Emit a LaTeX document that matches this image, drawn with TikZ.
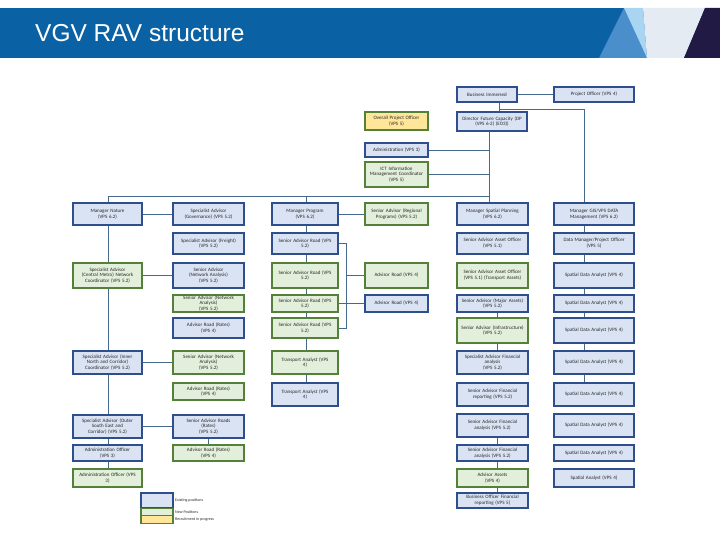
\documentclass[tikz,border=0pt]{standalone}
\usepackage{fontspec}
\setmainfont{Carlito}
\newfontfamily\arialfont{Liberation Sans}
\hyphenpenalty=10000
\exhyphenpenalty=10000
\definecolor{bfill}{HTML}{DAE3F3}
\definecolor{bbord}{HTML}{2F4F8C}
\definecolor{gfill}{HTML}{E2EFDA}
\definecolor{gbord}{HTML}{55803A}
\definecolor{yfill}{HTML}{FFE699}
\definecolor{lcol}{HTML}{46698E}
\definecolor{barblue}{HTML}{0A62A5}
\definecolor{midblue}{HTML}{4A8FCB}
\definecolor{liteblue}{HTML}{A9D4F2}
\definecolor{whitish}{HTML}{E4EBF3}
\definecolor{navy}{HTML}{211A45}
\newcommand\bx[7]{\pgfmathsetmacro\bxtw{#5-3}\node[#2,minimum width=#5pt,minimum height=#6pt,text width=\bxtw pt] (#1) at (#3,#4) {#7};}
\tikzset{
  box/.style={draw,line width=1.1pt,inner sep=0pt,align=center,font=\fontsize{5}{5.8}\selectfont,text=black!85},
  bluebox/.style={box,draw=bbord,fill=bfill},
  greenbox/.style={box,draw=gbord,fill=gfill},
  yellowbox/.style={box,draw=gbord,fill=yfill},
  conn/.style={draw=lcol,line width=0.8pt},
  legtext/.style={anchor=west,inner sep=0pt,font=\fontsize{4}{4.5}\selectfont,text=black!85}
}
\begin{document}
\hyphenpenalty=10000
\exhyphenpenalty=10000
\begin{tikzpicture}[x=1pt,y=-1pt]
\useasboundingbox (0,0) rectangle (720,540);
% header
\fill[barblue] (0,8) rectangle (720,58);
\fill[midblue] (599,58) -- (624,8) -- (647,58) -- cycle;
\fill[liteblue] (624,8) -- (643,8) -- (647,58) -- cycle;
\fill[whitish] (643,8) -- (705,8) -- (684,58) -- (647,58) -- cycle;
\fill[navy] (705,8) -- (720,8) -- (720,58) -- (684,58) -- cycle;
\node[anchor=base west,inner sep=0pt,text=white,font=\arialfont\fontsize{24.5}{26}\selectfont] (title) at (35,42) {VGV RAV structure};
% x positions of vertical connectors
\coordinate (c1x) at (108,0);
\coordinate (c2x) at (208,0);
\coordinate (c3x) at (306,0);
\coordinate (c5x) at (497,0);
\coordinate (c6x) at (584,0);
\coordinate (xa) at (499,0);
\coordinate (xd) at (489,0);
\coordinate (xb) at (346,0);
\coordinate (bus) at (489,196);
\coordinate (yb) at (0,109);
% top
\bx{biz}{bluebox}{487}{94.5}{60}{15}{Business Immersed}
\bx{proj}{bluebox}{594}{94.5}{80}{15}{Project Officer (VPS 4)}
\bx{yel}{yellowbox}{396.5}{121}{63}{18}{Overall Project Officer\\(VPS 5)}
\bx{dir}{bluebox}{492}{121.5}{70}{19}{Director Future Capacity (DP\\(VPS 6-2) (EO3))}
\bx{adm}{bluebox}{396.5}{150}{63}{14}{Administration (VPS 3)}
\bx{ict}{greenbox}{396.5}{174.5}{63}{25}{ICT Information\\Management Coordinator\\(VPS 5)}
% row 1
\bx{r1c1}{bluebox}{107.5}{214}{69}{22}{Manager Nature\\(VPS 6.2)}
\bx{r1c2}{bluebox}{208.5}{214}{71}{22}{Specialist Advisor\\(Governance) (VPS 5.2)}
\bx{r1c3}{bluebox}{305}{214}{66}{22}{Manager Program\\(VPS 6.2)}
\bx{r1c4}{greenbox}{396.5}{214}{63}{22}{Senior Advisor (Regional\\Programs) (VPS 5.2)}
\bx{r1c5}{bluebox}{492.5}{214}{71}{22}{Manager Spatial Planning\\(VPS 6.2)}
\bx{r1c6}{bluebox}{594}{214}{80}{22}{Manager GIS/VPS DATA\\Management (VPS 6.2)}
% row 2
\bx{r2c2}{bluebox}{208.5}{243.5}{71}{21}{Specialist Advisor (Freight)\\(VPS 5.2)}
\bx{r2c3}{bluebox}{305}{243.5}{66}{21}{Senior Advisor Road (VPS\\5.2)}
\bx{r2c5}{bluebox}{492.5}{243.5}{71}{21}{Senior Advisor Asset Officer\\(VPS 5.1)}
\bx{r2c6}{bluebox}{594}{243.5}{80}{21}{Data Manager/Project Officer\\(VPS 5)}
% row 3
\bx{r3c1}{greenbox}{107.5}{275.5}{69}{25}{Specialist Advisor\\(Central Metro) Network\\Coordinator (VPS 5.2)}
\bx{r3c2}{bluebox}{208.5}{275.5}{71}{25}{Senior Advisor (Network Analysis)\\(VPS 5.2)}
\bx{r3c3}{greenbox}{305}{275.5}{66}{25}{Senior Advisor Road (VPS\\5.2)}
\bx{r3c4}{greenbox}{396.5}{275.5}{63}{25}{Advisor Road (VPS 4)}
\bx{r3c5}{greenbox}{492.5}{275.5}{71}{25}{Senior Advisor Asset Officer\\(VPS 5.1) (Transport Assets)}
\bx{r3c6}{bluebox}{594}{275.5}{80}{25}{Spatial Data Analyst (VPS 4)}
% row 4
\bx{r4c2}{greenbox}{208.5}{303.5}{71}{17}{Senior Advisor (Network\\Analysis)\\(VPS 5.2)}
\bx{r4c3}{greenbox}{305}{303.5}{66}{17}{Senior Advisor Road (VPS\\5.2)}
\bx{r4c4}{bluebox}{396.5}{303.5}{63}{17}{Advisor Road (VPS 4)}
\bx{r4c5}{bluebox}{492.5}{303.5}{71}{17}{Senior Advisor (Major Assets)\\(VPS 5.2)}
\bx{r4c6}{bluebox}{594}{303.5}{80}{17}{Spatial Data Analyst (VPS 4)}
% row 5
\bx{r5c2}{bluebox}{208.5}{328}{71}{20}{Advisor Road (Rates)\\(VPS 4)}
\bx{r5c3}{greenbox}{305}{328}{66}{20}{Senior Advisor Road (VPS\\5.2)}
\bx{r5c5}{greenbox}{492.5}{330.5}{71}{25}{Senior Advisor (Infrastructure)\\(VPS 5.2)}
\bx{r5c6}{bluebox}{594}{330.5}{80}{25}{Spatial Data Analyst (VPS 4)}
% row 6
\bx{r6c1}{bluebox}{107.5}{362.5}{69}{23}{Specialist Advisor (Inner\\North and Corridor)\\Coordinator (VPS 5.2)}
\bx{r6c2}{greenbox}{208.5}{362.5}{71}{23}{Senior Advisor (Network\\Analysis)\\(VPS 5.2)}
\bx{r6c3}{greenbox}{305}{362.5}{66}{23}{Transport Analyst (VPS\\4)}
\bx{r6c5}{bluebox}{492.5}{362.5}{71}{23}{Specialist Advisor Financial\\analysis\\(VPS 5.2)}
\bx{r6c6}{bluebox}{594}{362.5}{80}{23}{Spatial Data Analyst (VPS 4)}
% row 7
\bx{r7c2}{greenbox}{208.5}{391.5}{71}{17}{Advisor Road (Rates)\\(VPS 4)}
\bx{r7c3}{bluebox}{305}{394.5}{66}{23}{Transport Analyst (VPS\\4)}
\bx{r7c5}{bluebox}{492.5}{394.5}{71}{23}{Senior Advisor Financial\\reporting (VPS 5.2)}
\bx{r7c6}{bluebox}{594}{394.5}{80}{23}{Spatial Data Analyst (VPS 4)}
% row 8
\bx{r8c1}{bluebox}{107.5}{426.5}{69}{23}{Specialist Advisor (Outer\\South East and\\Corridor) (VPS 5.2)}
\bx{r8c2}{bluebox}{208.5}{426.5}{71}{23}{Senior Advisor Roads\\(Rates)\\(VPS 5.2)}
\bx{r8c5}{bluebox}{492.5}{425.5}{71}{23}{Senior Advisor Financial\\analysis (VPS 5.2)}
\bx{r8c6}{bluebox}{594}{425.5}{80}{23}{Spatial Data Analyst (VPS 4)}
% row 9
\bx{r9c1}{bluebox}{107.5}{453}{69}{16}{Administration Officer\\(VPS 3)}
\bx{r9c2}{greenbox}{208.5}{453}{71}{16}{Advisor Road (Rates)\\(VPS 4)}
\bx{r9c5}{bluebox}{492.5}{453}{71}{16}{Senior Advisor Financial\\analysis (VPS 5.2)}
\bx{r9c6}{bluebox}{594}{453}{80}{16}{Spatial Data Analyst (VPS 4)}
% row 10
\bx{r10c1}{greenbox}{107.5}{478}{69}{18}{Administration Officer (VPS\\3)}
\bx{r10c5}{greenbox}{492.5}{478}{71}{18}{Advisor Assets\\(VPS 4)}
\bx{r10c6}{bluebox}{594}{478}{80}{18}{Spatial Analyst (VPS 4)}
% row 11
\bx{r11c5}{bluebox}{492.5}{500.5}{71}{15}{Business Officer Financial\\reporting (VPS 5)}
% legend
\node[bluebox,minimum width=32pt,minimum height=15pt] (lgb) at (157,500.5) {};
\node[greenbox,minimum width=32pt,minimum height=7.5pt] (lgg) at (157,511.8) {};
\node[yellowbox,minimum width=32pt,minimum height=7.5pt] (lgy) at (157,519.3) {};
\node[legtext] (lgbt) at (175,500) {Existing positions};
\node[legtext] (lggt) at (175,511.8) {New Positions};
\node[legtext] (lgyt) at (175,519.3) {Recruitment in progress};
% connectors top
\draw[conn] (biz.east) -- (proj.west);
\draw[conn] (biz.south -| xa) -- (dir.north -| xa);
\draw[conn] (xa |- yb) -| (r1c6.north -| c6x);
\draw[conn] (dir.south -| xd) -- (r1c5.north -| xd);
\draw[conn] (adm.east) -- (adm.east -| xd);
\draw[conn] (ict.east) -- (ict.east -| xd);
\draw[conn] (r1c1.north -| c1x) |- (bus);
\draw[conn] (r1c3.north -| c3x) -- (bus -| c3x);
% column 1
\draw[conn] (r1c1.south -| c1x) -- (r3c1.north -| c1x);
\draw[conn] (r3c1.south -| c1x) -- (r6c1.north -| c1x);
\draw[conn] (r6c1.south -| c1x) -- (r8c1.north -| c1x);
\draw[conn] (r8c1.south -| c1x) -- (r9c1.north -| c1x);
\draw[conn] (r9c1.south -| c1x) -- (r10c1.north -| c1x);
\draw[conn] (r1c1.east) -- (r1c2.west);
\draw[conn] (r3c1.east) -- (r3c2.west);
\draw[conn] (r6c1.east) -- (r6c2.west);
\draw[conn] (r8c1.east) -- (r8c2.west);
\draw[conn] (r8c2.south -| c2x) -- (r9c2.north -| c2x);
% column 3
\draw[conn] (r1c3.east) -- (r1c4.west);
\draw[conn] (r1c3.south -| c3x) -- (r2c3.north -| c3x);
\draw[conn] (r2c3.south -| c3x) -- (r3c3.north -| c3x);
\draw[conn] (r3c3.south -| c3x) -- (r4c3.north -| c3x);
\draw[conn] (r4c3.south -| c3x) -- (r5c3.north -| c3x);
\draw[conn] (r5c3.south -| c3x) -- (r6c3.north -| c3x);
\draw[conn] (r6c3.south -| c3x) -- (r7c3.north -| c3x);
% bracket to advisors
\draw[conn] (r2c3.east) -| (r5c3.east -| xb) -- (r5c3.east);
\draw[conn] (r4c3.east) -- (r4c4.west);
\draw[conn] (xb |- r3c4.west) -- (r3c4.west);
% column 5
\draw[conn] (r4c5.south -| c5x) -- (r5c5.north -| c5x);
\draw[conn] (r5c5.south -| c5x) -- (r6c5.north -| c5x);
\draw[conn] (r8c5.south -| c5x) -- (r9c5.north -| c5x);
\draw[conn] (r9c5.south -| c5x) -- (r10c5.north -| c5x);
\draw[conn] (r10c5.south -| c5x) -- (r11c5.north -| c5x);
% column 6
\draw[conn] (r1c6.south -| c6x) -- (r2c6.north -| c6x);
\draw[conn] (r2c6.south -| c6x) -- (r3c6.north -| c6x);
\draw[conn] (r3c6.south -| c6x) -- (r4c6.north -| c6x);
\draw[conn] (r4c6.south -| c6x) -- (r5c6.north -| c6x);
\draw[conn] (r5c6.south -| c6x) -- (r6c6.north -| c6x);
\draw[conn] (r6c6.south -| c6x) -- (r7c6.north -| c6x);
\end{tikzpicture}
\end{document}
